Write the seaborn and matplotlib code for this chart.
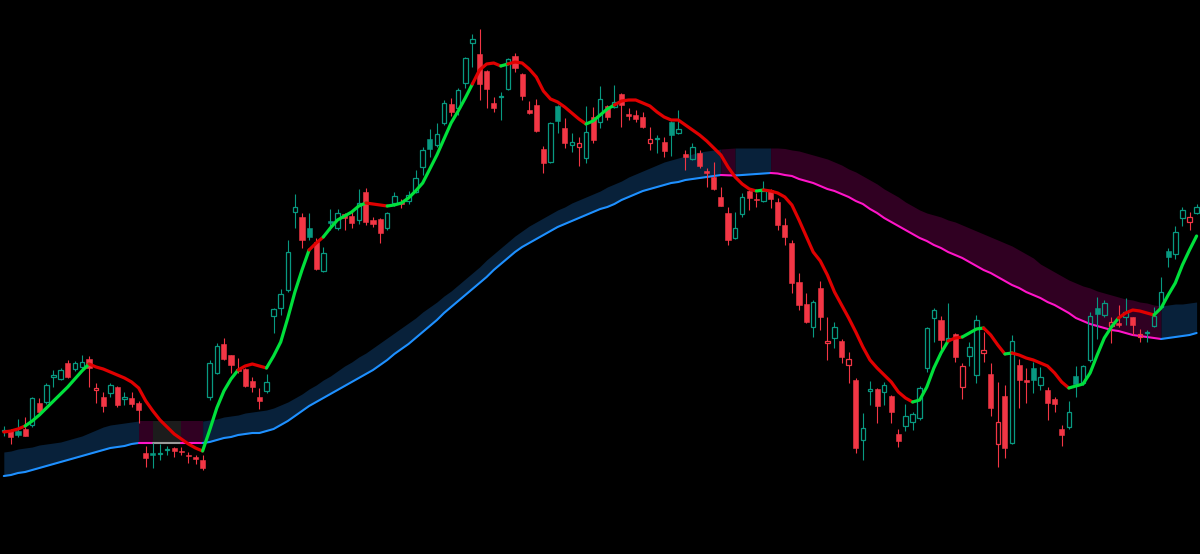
import numpy as np
import matplotlib
matplotlib.use("Agg")
import matplotlib.pyplot as plt
import seaborn as sns

# ---------------------------------------------------------------
# Data. The vertical scale is the chart's own
# price scale measured downward (a smaller number = a higher price),
# so the y axis is drawn inverted.
# ---------------------------------------------------------------
opens = [
    431, 431, 431, 429, 425, 403, 402, 377, 379, 363,
    369, 367, 359, 390, 397, 393, 387, 399, 398, 403,
    453, 453, 454, 450, 448, 451, 455, 457, 460, 397,
    373, 344, 355, 369, 369, 381, 397, 391, 316, 308,
    290, 212, 217, 228, 242, 271, 221, 228, 214, 216,
    220, 192, 220, 219, 228, 203, 202, 201, 192, 167,
    139, 145, 123, 104, 108, 83, 43, 54, 71, 103,
    97, 89, 56, 74, 110, 105, 149, 162, 106, 128,
    145, 147, 158, 117, 122, 106, 107, 94, 114, 115,
    117, 143, 139, 142, 122, 133, 154, 159, 153, 171,
    177, 197, 213, 238, 214, 191, 198.5, 201, 190, 202,
    225, 243, 282, 304, 327, 288, 343, 338, 341, 365,
    380, 440, 391, 389, 392, 396, 434, 426, 422, 418,
    368, 318, 320, 340, 334, 387, 356, 375, 353, 374,
    444, 396, 443, 365, 380, 368, 385, 390, 399, 429,
    427, 376, 383, 360, 308, 315, 326, 323, 317, 317,
    337, 333, 326, 307, 251, 254, 218, 222, 213,
]
highs = [
    426, 429, 419, 417, 397, 398, 383, 370, 368, 360,
    361, 355, 356, 383, 392, 383, 386, 392, 392, 401,
    446, 443, 444, 446, 447, 447, 452, 455, 455, 360,
    343, 338, 355, 358, 368, 377, 388, 374, 308, 289,
    240, 194, 213, 213, 238, 247, 209, 209, 213, 211,
    189, 188, 217, 218, 212, 192, 199, 191, 170, 147,
    129, 123, 100, 98, 88, 57, 34, 29, 70, 97,
    92, 58, 53, 73, 101, 99, 146, 122, 105, 118,
    133, 137, 106, 107, 86, 105, 85, 93, 108, 110,
    112, 127, 135, 137, 121, 110, 150, 143, 150, 168,
    162, 187, 207, 212, 193, 190, 193, 181, 189, 198,
    218, 240, 273, 293, 300, 281, 317, 322, 339, 352,
    378, 413, 381, 388, 382, 395, 429, 404, 412, 386,
    327, 308, 316, 303, 333, 363, 342, 315, 332, 363,
    382, 385, 335, 359, 368, 362, 367, 387, 397, 425,
    401, 366, 365, 312, 297, 300, 317, 305, 298, 317,
    329, 330, 307, 277, 248, 226, 207, 212, 204,
]
lows = [
    436, 444, 437, 436, 427, 415, 404, 387, 380, 378,
    371, 369, 387, 403, 412, 397, 407, 405, 407, 423,
    467, 468, 460, 455, 457, 455, 463, 464, 470, 400,
    374, 360, 373, 373, 387, 392, 409, 393, 333, 315,
    292, 228, 248, 240, 270, 272, 230, 230, 230, 228,
    224, 225, 227, 243, 230, 206, 208, 204, 193, 175,
    157, 147, 125, 116, 115, 88, 67, 100, 108, 112,
    120, 90, 72, 100, 114, 132, 173, 163, 133, 148,
    152, 166, 163, 143, 128, 120, 108, 127, 120, 122,
    128, 150, 153, 157, 156, 134, 170, 160, 168, 187,
    190, 206, 245, 239, 217, 210, 207, 202, 208, 230,
    245, 293, 310, 323, 337, 330, 360, 348, 363, 383,
    453, 460, 405, 423, 405, 423, 447, 431, 430, 420,
    372, 342, 350, 341, 362, 399, 366, 383, 362, 416,
    467, 458, 444, 408, 403, 393, 390, 420, 412, 446,
    429, 397, 385, 362, 339, 317, 343, 327, 325, 335,
    342, 342, 327, 308, 267, 259, 226, 230, 214,
]
closes = [
    430, 437, 435, 436, 398, 412, 385, 375, 370, 377,
    363, 362, 368, 388, 406, 385, 405, 397, 404, 410,
    458, 455, 453, 449, 451, 452, 456, 459, 468, 363,
    346, 359, 365, 371, 386, 387, 401, 382, 309, 294,
    252, 207, 240, 237, 269, 253, 223, 213, 218, 223,
    203, 222, 224, 233, 213, 196, 204, 195, 178, 150,
    149, 134, 103, 112, 90, 58, 39, 84, 89, 108,
    96, 59, 68, 96, 113, 131, 163, 123, 121, 143,
    142, 143, 132, 140, 99, 117, 102, 105, 116, 119,
    127, 139, 138, 151, 135, 129, 157, 147, 166, 172.5,
    189, 206, 240, 228, 197, 198, 199.5, 191, 199, 225,
    237, 283, 305, 322, 302, 317, 341, 327, 357, 359,
    448, 428, 389, 406, 385, 412, 441, 416, 414, 388,
    328, 310, 340, 338, 357, 366, 347, 320, 350, 408,
    422, 448, 341, 380, 382, 380, 377, 403, 404, 435,
    412, 384, 366, 316, 314, 303, 322, 325, 312, 325,
    334, 332, 316, 292, 257, 232, 210, 217, 207,
]

# fast moving average and its trend state (1 = up / green, -1 = down / red)
fast_ma = [
    432, 431, 429, 426, 421, 415, 408, 401, 394, 387,
    379, 371, 364, 367, 369, 372, 375, 378, 382, 388,
    401, 411, 420, 427, 434, 439, 444, 448, 451, 430,
    408, 391, 379, 370, 366, 364, 366, 368, 356, 342,
    318, 292, 270, 250, 243, 237, 228, 220, 216, 212,
    206, 203, 204, 205, 206, 205, 203, 198, 191, 183,
    169, 155, 139, 123, 111, 98, 84, 70, 64, 63,
    66, 64, 62, 63, 69, 77, 91, 99, 102, 107,
    113, 119, 124, 121, 115, 109, 105, 101, 100, 100,
    103, 106, 112, 117, 120, 120, 125, 130, 135, 141,
    148, 155, 167, 177, 184, 189, 191, 190, 191, 193,
    197, 205, 220, 236, 252, 261, 275, 292, 305, 318,
    332, 347, 360, 368, 375, 382, 392, 398, 402, 400,
    387, 368, 353, 341, 338, 337, 333, 329, 328, 335,
    345, 354, 353, 355, 358, 360, 363, 366, 373, 382,
    388, 386, 384, 373, 355, 338, 327, 318, 313, 310,
    311, 313, 315, 308, 295, 283, 265, 250, 236,
]
fast_trend = [
    -1, -1, -1, 1, 1, 1, 1, 1, 1, 1,
    1, 1, -1, -1, -1, -1, -1, -1, -1, -1,
    -1, -1, -1, -1, -1, -1, -1, -1, 1, 1,
    1, 1, 1, -1, -1, -1, -1, 1, 1, 1,
    1, 1, 1, -1, -1, 1, 1, 1, 1, 1,
    1, -1, -1, -1, 1, 1, 1, 1, 1, 1,
    1, 1, 1, 1, 1, 1, -1, -1, -1, -1,
    1, -1, -1, -1, -1, -1, -1, -1, -1, -1,
    -1, -1, 1, 1, 1, 1, -1, -1, -1, -1,
    -1, -1, -1, -1, -1, -1, -1, -1, -1, -1,
    -1, -1, -1, -1, -1, -1, 1, -1, -1, -1,
    -1, -1, -1, -1, -1, -1, -1, -1, -1, -1,
    -1, -1, -1, -1, -1, -1, -1, -1, 1, 1,
    1, 1, 1, -1, -1, 1, 1, 1, -1, -1,
    -1, 1, -1, -1, -1, -1, -1, -1, -1, -1,
    1, 1, 1, 1, 1, 1, 1, -1, -1, -1,
    -1, -1, 1, 1, 1, 1, 1, 1, 1,
]

# slow moving average, upper edge of its ribbon, and trend state (1 up, -1 down, 0 flat)
slow_ma = [
    476, 475, 473, 472, 470, 468, 466, 464, 462, 460,
    458, 456, 454, 452, 450, 448, 447, 446, 444, 443,
    443, 443, 443, 443, 443, 443, 443, 443, 443, 442,
    440, 438, 437, 435, 434, 433, 433, 431, 429, 425,
    421, 416, 411, 406, 402, 398, 394, 390, 386, 382,
    378, 374, 370, 365, 360, 354, 349, 344, 338, 332,
    326, 320, 313, 307, 301, 295, 289, 283, 277, 270,
    264, 258, 252, 247, 243, 239, 235, 231, 227, 224,
    221, 218, 215, 212, 209, 207, 204, 200, 197, 194,
    191, 189, 187, 185, 183, 182, 180, 179, 178, 177,
    176, 175, 175.3, 175.5, 175, 174.5, 174, 173.5, 173, 173.5,
    175, 176, 179, 181, 183, 186, 189, 191, 194, 197,
    201, 204, 209, 213, 218, 222, 226, 230, 234, 238,
    241, 245, 248, 252, 255, 258, 262, 266, 270, 273,
    277, 281, 285, 288, 292, 295, 298, 302, 305, 309,
    313, 318, 321, 324, 326, 328, 330, 331, 333, 335,
    336, 337, 338, 339, 338, 337, 336, 335, 333,
]
slow_upper = [
    452, 451, 449, 448, 447, 445, 444, 443, 442, 440,
    438, 436, 433, 430, 427, 425, 424, 423, 422, 421,
    421, 421, 421, 421, 421, 421, 421, 421, 421, 420,
    419, 417, 416, 415, 413, 412, 411, 410, 408, 405,
    402, 398, 394, 389, 385, 380, 376, 371, 366, 362,
    357, 353, 348, 343, 338, 333, 328, 323, 318, 312,
    307, 302, 296, 291, 285, 279, 273, 267, 260, 254,
    248, 242, 236, 231, 226, 222, 218, 214, 210, 207,
    203, 200, 197, 194, 191, 187, 184, 181, 177, 174,
    171, 168, 165, 162, 160, 158, 156, 154, 152, 151,
    150, 149, 148.5, 148, 148, 148, 148, 148, 148, 148,
    148.5, 150, 151, 153, 155, 157, 159, 162, 165, 169,
    172, 176, 180, 184, 189, 193, 197, 202, 206, 210,
    213, 215, 217, 220, 222, 225, 228, 231, 234, 237,
    240, 243, 246, 250, 254, 258, 264, 268, 272, 276,
    280, 283, 286, 288, 291, 293, 295, 297, 299, 300,
    302, 303, 305, 306, 305, 304, 304, 303, 302,
]
slow_trend = (
    [1] * 19 + [-1] * 2 + [0] * 4 + [-1] * 3 + [1] * 73
    + [-1] * 2 + [1] * 5 + [-1] * 55 + [1] * 6
)

# ---------------------------------------------------------------
# Styling
# ---------------------------------------------------------------
BG = "#000000"
UP_C = "#089981"
DN_C = "#f23645"
FAST_COL = {1: "#00e03c", -1: "#e00000"}
SLOW_COL = {1: "#1e90ff", -1: "#ff14c8", 0: "#9a9a9a"}
BAND_COL = {1: "#08213a", -1: "#300022", 0: "#1c1c1c"}

sns.set_style("dark", {"axes.facecolor": BG, "figure.facecolor": BG})

W, H, DPI = 1200, 554, 100
fig = plt.figure(figsize=(W / DPI, H / DPI), dpi=DPI, facecolor=BG)
ax = fig.add_axes([0, 0, 1, 1])
ax.set_facecolor(BG)

n = len(closes)
xs = np.arange(n)


def runs(states):
    """Yield (start, end, state) point ranges where consecutive segments share a state."""
    start = 0
    for k in range(1, len(states) + 1):
        if k == len(states) or states[k] != states[start]:
            yield start, min(k, len(states) - 1), states[start]
            start = k


# slow ribbon
slow_a = np.array(slow_ma, dtype=float)
up_a = np.array(slow_upper, dtype=float)
for s, e, st in runs(slow_trend):
    if e <= s:
        continue
    ax.fill_between(xs[s:e + 1], slow_a[s:e + 1], up_a[s:e + 1],
                    color=BAND_COL[st], linewidth=0, zorder=1)

# slow line
for s, e, st in runs(slow_trend):
    if e <= s:
        continue
    sns.lineplot(x=xs[s:e + 1], y=slow_a[s:e + 1], color=SLOW_COL[st],
                 linewidth=1.5, ax=ax, sort=False, estimator=None,
                 legend=False, zorder=2, solid_capstyle="round")

# candles (hollow style: hollow when close above open, colour by close vs previous close)
o = np.array(opens, dtype=float)
h = np.array(highs, dtype=float)
l = np.array(lows, dtype=float)
c = np.array(closes, dtype=float)
prev_c = np.concatenate([[c[0] + 1], c[:-1]])
green = c <= prev_c           # smaller number = higher price
hollow = c < o
col = np.where(green, UP_C, DN_C)
body_top = np.minimum(o, c)
body_bot = np.maximum(o, c)
body_h = np.maximum(body_bot - body_top, 1.0)
BW = 0.72

for i in range(n):
    if hollow[i]:
        ax.vlines(xs[i], h[i], body_top[i], color=col[i], linewidth=0.8, zorder=3)
        ax.vlines(xs[i], body_top[i] + body_h[i], l[i], color=col[i], linewidth=0.8, zorder=3)
    else:
        ax.vlines(xs[i], h[i], l[i], color=col[i], linewidth=0.8, zorder=3)

filled = ~hollow
ax.bar(xs[filled], body_h[filled], bottom=body_top[filled], width=BW,
       color=col[filled], edgecolor=col[filled], linewidth=0.4, zorder=4)
ax.bar(xs[hollow], body_h[hollow], bottom=body_top[hollow], width=BW - 0.1,
       facecolor="none", edgecolor=col[hollow], linewidth=0.9, zorder=4)

# fast line
fast_a = np.array(fast_ma, dtype=float)
for s, e, st in runs(fast_trend):
    if e <= s:
        continue
    sns.lineplot(x=xs[s:e + 1], y=fast_a[s:e + 1], color=FAST_COL[st],
                 linewidth=2.3, ax=ax, sort=False, estimator=None,
                 legend=False, zorder=5, solid_capstyle="round")

SPACING, X0 = 7.1, 3.8   # pixels per bar, first bar offset
ax.set_xlim(-X0 / SPACING, (W - X0) / SPACING)
ax.set_ylim(H, 0)
ax.axis("off")

fig.savefig("out.png", dpi=DPI, facecolor=BG)
